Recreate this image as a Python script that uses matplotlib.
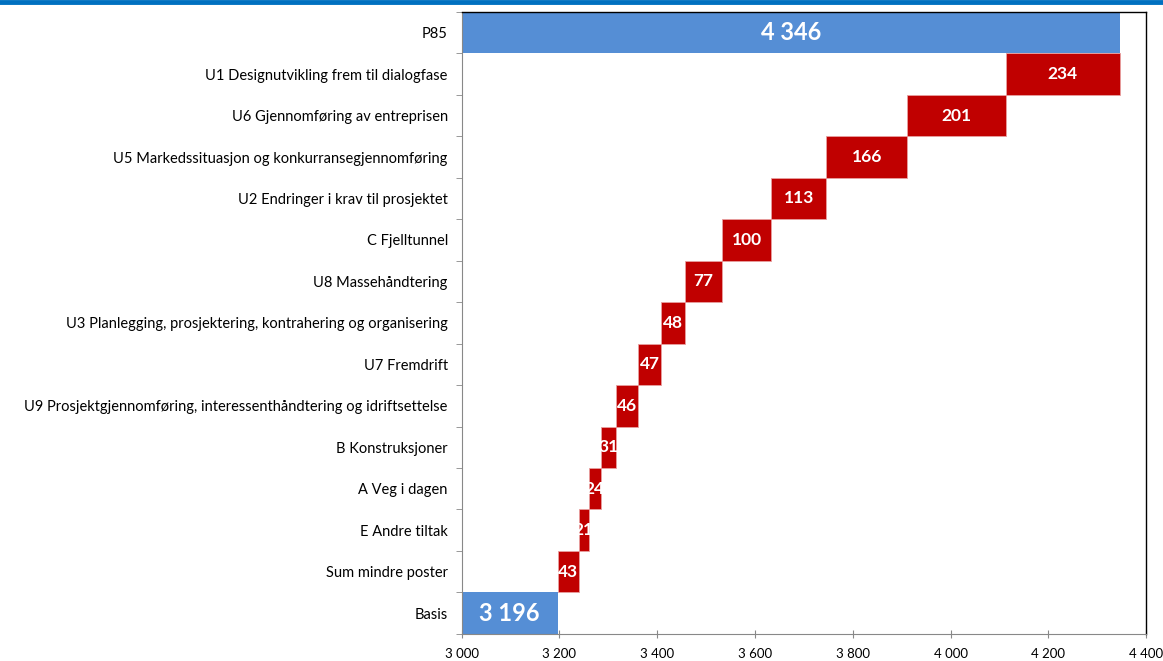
import numpy as np
import matplotlib.pyplot as plt
from matplotlib.lines import Line2D

plt.rcParams['font.family'] = ['Lato', 'DejaVu Sans']

categories = ['Basis', 'Sum mindre poster', 'E Andre tiltak', 'A Veg i dagen',
              'B Konstruksjoner',
              'U9 Prosjektgjennomføring, interessenthåndtering og idriftsettelse',
              'U7 Fremdrift',
              'U3 Planlegging, prosjektering, kontrahering og organisering',
              'U8 Massehåndtering', 'C Fjelltunnel',
              'U2 Endringer i krav til prosjektet',
              'U5 Markedssituasjon og konkurransegjennomføring',
              'U6 Gjennomføring av entreprisen',
              'U1 Designutvikling frem til dialogfase', 'P85']
basis = 3196
steps = [43, 21, 24, 31, 46, 47, 48, 77, 100, 113, 166, 201, 234]
p85 = 4346
xmin, xmax = 3000, 4400
xticks = np.arange(3000, 4401, 200)

def fmt(v):
    return f'{v:,}'.replace(',', ' ')

blue = '#558ED5'
red = '#C00000'

fig = plt.figure(figsize=(11.63, 6.61), dpi=100)
ax = fig.add_axes([0.397, 0.041, 0.5884, 0.941])

y = np.arange(len(categories))
# start and end bars
ax.barh(0, basis - xmin, left=xmin, height=1.0, color=blue)
ax.barh(len(categories) - 1, p85 - xmin, left=xmin, height=1.0, color=blue)
ax.text(xmin + (basis - xmin) / 2, 0, fmt(basis), color='white', fontsize=17,
        fontweight='bold', ha='center', va='center')
ax.text(xmin + (p85 - xmin) / 2, len(categories) - 1, fmt(p85), color='white',
        fontsize=17, fontweight='bold', ha='center', va='center')

lefts = basis + np.concatenate([[0], np.cumsum(steps)[:-1]])
ax.barh(y[1:-1], steps, left=lefts, height=1.0, color=red,
        edgecolor='#e8a0a0', linewidth=0.6)
for yi, l, s in zip(y[1:-1], lefts, steps):
    ax.text(l + s / 2, yi, fmt(s), color='white', fontsize=12.5,
            fontweight='bold', ha='center', va='center', clip_on=True)

ax.set_xlim(xmin, xmax)
ax.set_ylim(-0.5, len(categories) - 0.5)
ax.set_xticks(xticks)
ax.set_xticklabels([fmt(v) for v in xticks], fontsize=9.5)
ax.set_yticks(y)
ax.set_yticklabels(categories, fontsize=10.5)
ax.set_yticks(np.arange(-0.5, len(categories)), minor=True)
ax.tick_params(axis='y', which='major', length=0, pad=10)
ax.tick_params(axis='y', which='minor', length=4, color='#888888')
ax.tick_params(axis='x', direction='inout', length=6, color='#888888', pad=7)

for s in ['left', 'bottom']:
    ax.spines[s].set_color('#888888')
for s in ['top', 'right']:
    ax.spines[s].set_color('black')
    ax.spines[s].set_linewidth(1.0)

fig.add_artist(Line2D([0, 1], [0.9975, 0.9975], transform=fig.transFigure,
                      color='#0070C0', linewidth=3.5))

fig.savefig('out.png', dpi=100)
